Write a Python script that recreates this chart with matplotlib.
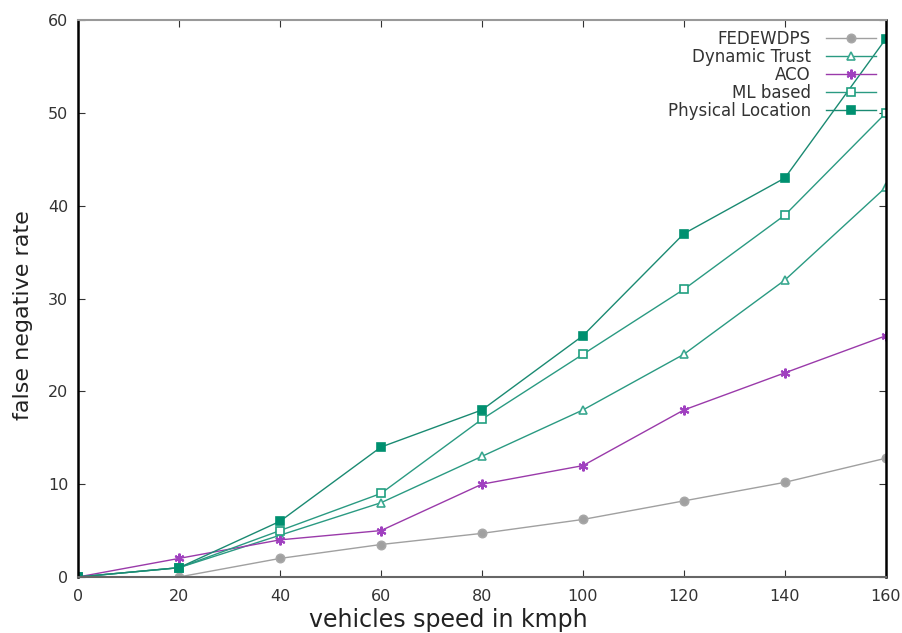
import matplotlib
matplotlib.use("Agg")
import matplotlib.pyplot as plt

speeds = [0, 20, 40, 60, 80, 100, 120, 140, 160]
fedewdps = [0, 0, 2, 3.5, 4.7, 6.2, 8.2, 10.2, 12.8]
dynamic_trust = [0, 1, 4.5, 8, 13, 18, 24, 32, 42]
aco = [0, 2, 4, 5, 10, 12, 18, 22, 26]
ml_based = [0, 1, 5, 9, 17, 24, 31, 39, 50]
physical_location = [0, 1, 6, 14, 18, 26, 37, 43, 58]

plt.rcParams['font.family'] = ['DejaVu Sans']
fig = plt.figure(figsize=(9.03, 6.33), dpi=100)
ax = fig.add_axes([0.0864, 0.0885, 0.8946, 0.8795])

series = [
    ("FEDEWDPS", fedewdps, "#a0a0a0", "#a8a8a8", "o", "#a0a0a0"),
    ("Dynamic Trust", dynamic_trust, "#2a9a82", "#3aa890", "^", "none"),
    ("ACO", aco, "#9a3aaa", "#a040c0", "x", "#a040c0"),
    ("ML based", ml_based, "#2a9a82", "#20a080", "s", "none"),
    ("Physical Location", physical_location, "#1a8a72", "#009070", "s", "#009070"),
]
for name, vals, lc, mc, mk, mf in series:
    kw = dict(marker=mk, markersize=6, markeredgecolor=mc, markeredgewidth=1.2)
    if mk == "x":
        kw.update(marker=(6, 2, 0), markersize=7, markeredgewidth=1.5)
    kw["markerfacecolor"] = "white" if mf == "none" else mf
    ax.plot(speeds, vals, color=lc, linewidth=1.0, label=name, **kw)

ax.set_xlim(0, 160)
ax.set_ylim(0, 60)
ax.set_xticks(speeds)
ax.set_yticks(range(0, 61, 10))
ax.tick_params(direction='in', top=True, right=True, labelsize=11.5, length=5,
               colors='#333333', pad=7)
ax.tick_params(axis='x', pad=9)
ax.spines['left'].set_linewidth(1.8)
ax.spines['right'].set_linewidth(1.8)
ax.spines['top'].set_color('#999999')
ax.spines['bottom'].set_color('#666666')
ax.spines['top'].set_linewidth(1.5)
ax.spines['bottom'].set_linewidth(1.5)

ax.set_xlabel("vehicles speed in kmph", fontsize=17, color='#222222')
ax.set_ylabel("false negative rate", fontsize=16, color='#222222')
ax.xaxis.set_label_coords(0.458, -0.055)
ax.yaxis.set_label_coords(-0.056, 0.47)

leg = ax.legend(loc='upper right', frameon=False, markerfirst=False, fontsize=12,
                handlelength=3.0, labelspacing=0.0, borderaxespad=0.2,
                handletextpad=0.9)
for t in leg.get_texts():
    t.set_color('#333333')

fig.savefig("out.png", dpi=100)
